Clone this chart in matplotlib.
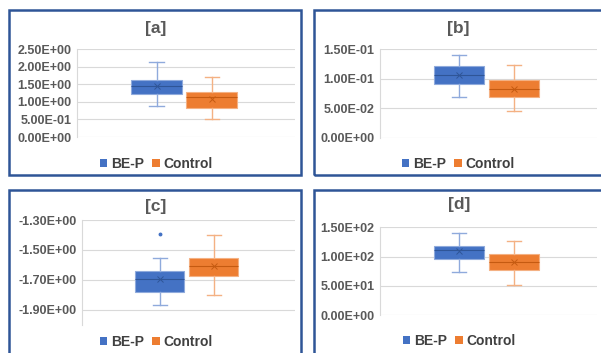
import matplotlib.pyplot as plt
from matplotlib.patches import Rectangle, Patch

plt.rcParams['font.family'] = ['Liberation Sans', 'DejaVu Sans']

groups = ["BE-P", "Control"]
colors = ["#4472C4", "#ED7D31"]
whisk_colors = ["#8FAADC", "#F4B183"]
med_colors = ["#2F5597", "#C55A11"]

# box stats: whislo, q1, med, mean, q3, whishi
stats_a = [[0.87, 1.23, 1.46, 1.44, 1.61, 2.12],
           [0.51, 0.81, 1.14, 1.08, 1.29, 1.70]]
stats_b = [[0.0696, 0.0911, 0.1064, 0.1064, 0.1211, 0.1398],
           [0.0453, 0.0691, 0.0821, 0.0821, 0.0968, 0.1228]]
stats_c = [[-1.869, -1.778, -1.691, -1.691, -1.642, -1.551],
           [-1.798, -1.671, -1.609, -1.609, -1.551, -1.402]]
stats_d = [[74.1, 95.8, 111.0, 109.5, 118.0, 140.3],
           [50.8, 77.0, 90.0, 90.0, 104.9, 126.0]]
fliers_c = [[-1.391], []]

ticks_a = [0, 0.5, 1.0, 1.5, 2.0, 2.5]
labels_a = ["0.00E+00", "5.00E-01", "1.00E+00", "1.50E+00", "2.00E+00", "2.50E+00"]
ticks_b = [0, 0.05, 0.10, 0.15]
labels_b = ["0.00E+00", "5.00E-02", "1.00E-01", "1.50E-01"]
ticks_c = [-1.9, -1.7, -1.5, -1.3]
labels_c = ["-1.90E+00", "-1.70E+00", "-1.50E+00", "-1.30E+00"]
ticks_d = [0, 50, 100, 150]
labels_d = ["0.00E+00", "5.00E+01", "1.00E+02", "1.50E+02"]

W, H = 601, 353
fig = plt.figure(figsize=(W / 100, H / 100), dpi=100)
fig.patch.set_facecolor("white")


def px(l, t, r, b):
    return [l / W, 1 - b / H, (r - l) / W, (b - t) / H]


def panel(rect, box_px, stats, ticks, labels, ylim, title, title_xy, leg_y, fliers=None):
    l, t, r, b = box_px
    fig.patches.append(Rectangle((l / W, 1 - b / H), (r - l) / W, (b - t) / H,
                                 transform=fig.transFigure, fill=False,
                                 edgecolor="#2F5597", linewidth=1.8, zorder=5))
    ax = fig.add_axes(px(*rect))
    for i, s in enumerate(stats):
        st = dict(whislo=s[0], q1=s[1], med=s[2], mean=s[3], q3=s[4],
                  whishi=s[5], fliers=(fliers[i] if fliers else []))
        ax.bxp([st], positions=[[0.365, 0.618][i]], widths=0.232, patch_artist=True,
               showmeans=True, capwidths=0.065,
               boxprops=dict(facecolor=colors[i], edgecolor=whisk_colors[i], linewidth=0.8),
               whiskerprops=dict(color=whisk_colors[i], linewidth=1.0),
               capprops=dict(color=whisk_colors[i], linewidth=1.0),
               medianprops=dict(color=med_colors[i], linewidth=0.8),
               meanprops=dict(marker="x", markeredgecolor=med_colors[i],
                              markersize=4, markeredgewidth=0.7),
               flierprops=dict(marker="o", markerfacecolor=colors[i],
                               markeredgecolor=colors[i], markersize=1.8))
    ax.set_xlim(0, 1)
    ax.set_ylim(*ylim)
    ax.set_xticks([])
    ax.set_yticks(ticks)
    ax.set_yticklabels(labels, fontsize=9, fontweight="bold", color="#595959")
    ax.tick_params(axis="y", length=0, pad=4)
    ax.grid(axis="y", color="#D9D9D9", linewidth=0.8)
    ax.set_axisbelow(True)
    for sp in ["top", "right", "bottom"]:
        ax.spines[sp].set_visible(False)
    ax.spines["left"].set_color("#D9D9D9")
    ax.spines["left"].set_linewidth(0.8)
    fig.text(title_xy[0] / W, 1 - title_xy[1] / H, title, ha="center", va="center",
             fontsize=12.5, fontweight="bold", color="#595959")
    handles = [Patch(facecolor=colors[i], label=groups[i]) for i in range(2)]
    fig.legend(handles=handles, loc="center", bbox_to_anchor=(title_xy[0] / W, 1 - leg_y / H),
               ncol=2, frameon=False, handlelength=0.55, handleheight=0.55,
               handletextpad=0.25, columnspacing=0.6,
               prop=dict(weight="bold", size=10))
    for txt in fig.legends[-1].get_texts():
        txt.set_color("#404040")
    return ax


panel((77, 49, 295, 137), (9, 10, 301, 175), stats_a, ticks_a, labels_a, (0, 2.5),
      "[a]", (156, 28), 164)
panel((380, 49, 597, 137.7), (314, 10, 603, 175), stats_b, ticks_b, labels_b, (0, 0.15),
      "[b]", (458, 28), 164)
panel((82, 220, 295, 325), (9, 190, 301, 360), stats_c, ticks_c, labels_c, (-2.0, -1.3),
      "[c]", (156, 207), 342, fliers=fliers_c)
panel((380, 227.3, 597, 315), (314, 190, 603, 360), stats_d, ticks_d, labels_d, (0, 150),
      "[d]", (459, 204), 341)

fig.savefig("out.png", dpi=100, facecolor="white")
